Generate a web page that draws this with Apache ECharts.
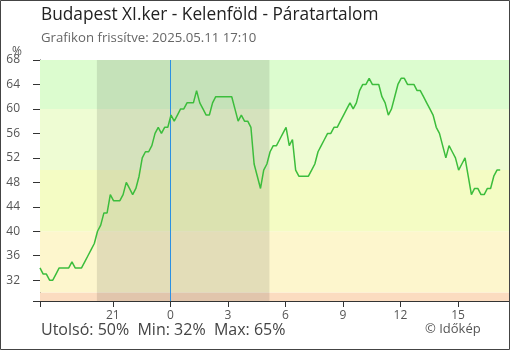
<!DOCTYPE html>
<html>
<head>
<meta charset="utf-8">
<script src="https://cdn.jsdelivr.net/npm/echarts@6/dist/echarts.min.js"></script>
<style>
  html, body { margin: 0; padding: 0; background: #fff; }
  #chart { width: 510px; height: 350px; }
</style>
</head>
<body>
<div id="chart"></div>
<script>
// Relative humidity (%), one reading every 10 minutes, hours relative to midnight
const startHour = -6.8;
const stepHour = 1 / 6;
const humidity = [
  34, 33, 33, 32, 32, 33, 34, 34, 34, 34, 35, 34, 34, 34, 35, 36, 37, 38, 40, 41,
  43, 43, 46, 45, 45, 45, 46, 48, 47, 46, 47, 49, 52, 53, 53, 54, 56, 57, 56, 57,
  57, 59, 58, 59, 60, 60, 61, 61, 61, 63, 61, 60, 59, 59, 61, 62, 62, 62, 62, 62,
  62, 60, 58, 59, 58, 58, 57, 51, 49, 47, 50, 51, 53, 54, 54, 55, 56, 57, 54, 55,
  50, 49, 49, 49, 49, 50, 51, 53, 54, 55, 56, 56, 57, 57, 58, 59, 60, 61, 60, 61,
  63, 64, 64, 65, 64, 64, 64, 62, 61, 59, 60, 62, 64, 65, 65, 64, 64, 64, 63, 63,
  62, 61, 60, 59, 57, 56, 54, 52, 54, 53, 52, 50, 51, 52, 49, 46, 47, 47, 46, 46,
  47, 47, 49, 50, 50
];

// Axis extents and ticks
const hourMin = -6.8;
const hourMax = 17.66;
const hourTicks = [-3, 0, 3, 6, 9, 12, 15];
const humMin = 28.6;
const humMax = 68;
const humTicks = [32, 36, 40, 44, 48, 52, 56, 60, 64, 68];

// Comfort bands (limits in %) and the night period (hours)
const bandLimits = [28.6, 30, 40, 50, 60, 68];
const nightRange = [-3.833, 5.167];

// Summary texts
const titleText = 'Budapest XI.ker - Kelenföld - Páratartalom';
const subtitleText = 'Grafikon frissítve: 2025.05.11 17:10';
const statsText = 'Utolsó: 50%  Min: 32%  Max: 65%';
const creditText = '© Időkép';

const FONT = '"Open Sans", "Noto Sans", sans-serif';
const bandColors = ['#fbdcc0', '#fdf6cd', '#f4fcc4', '#eefcd3', '#dcfccf'];

const points = humidity.map((v, i) => [startHour + i * stepHour, v]);
const bandAreas = [];
for (let k = 0; k < bandLimits.length - 1; k++) {
  bandAreas.push([
    { yAxis: bandLimits[k], itemStyle: { color: bandColors[k] } },
    { yAxis: bandLimits[k + 1] }
  ]);
}
const hourLabel = v => String(((Math.round(v) % 24) + 24) % 24);

const chart = echarts.init(document.getElementById('chart'), null, { renderer: 'canvas' });
chart.setOption({
  animation: false,
  backgroundColor: '#fff',
  grid: { left: 40, right: 1, top: 60, bottom: 49, containLabel: false },
  xAxis: [
    {
      type: 'value', min: hourMin, max: hourMax, position: 'bottom',
      axisLine: { show: true, onZero: false, lineStyle: { color: '#333', width: 1 } },
      axisTick: { show: true, inside: false, length: 6, customValues: [hourMin].concat(hourTicks),
                  lineStyle: { color: '#333' } },
      axisLabel: { customValues: hourTicks, formatter: hourLabel, margin: 9,
                   color: '#555', fontSize: 12, fontFamily: FONT },
      splitLine: { show: false }
    },
    {
      type: 'value', min: hourMin, max: hourMax, position: 'bottom',
      axisLine: { show: false, onZero: false },
      axisTick: { show: true, inside: true, length: 6, customValues: hourTicks,
                  lineStyle: { color: '#333' } },
      axisLabel: { show: false },
      splitLine: { show: false }
    }
  ],
  yAxis: {
    type: 'value', min: humMin, max: humMax,
    axisLine: { show: true, onZero: false, lineStyle: { color: '#333', width: 1 } },
    axisTick: { show: true, inside: false, length: 7, customValues: [humMin].concat(humTicks),
                lineStyle: { color: '#333' } },
    axisLabel: { customValues: humTicks, margin: 20, color: '#555', fontSize: 12, fontFamily: FONT },
    splitLine: { show: false }
  },
  series: [
    {
      name: 'bands', type: 'line', data: [], z: 1, silent: true,
      markArea: { silent: true, data: bandAreas }
    },
    {
      name: 'night', type: 'line', data: [], z: 2, silent: true,
      markArea: { silent: true, itemStyle: { color: 'rgba(0,0,0,0.1)' },
                  data: [[{ xAxis: nightRange[0] }, { xAxis: nightRange[1] }]] }
    },
    {
      name: 'Páratartalom', type: 'line', data: points, z: 5,
      showSymbol: false, smooth: false, silent: true,
      lineStyle: { color: '#3cbd3c', width: 1.5 },
      markLine: {
        silent: true, symbol: ['none', 'none'], label: { show: false },
        lineStyle: { color: '#2b90e2', width: 1, type: 'solid' },
        data: [{ xAxis: 0 }]
      }
    }
  ],
  graphic: [
    { type: 'text', left: 41, top: 7,
      style: { text: titleText, fill: '#222', font: '17.3px ' + FONT } },
    { type: 'text', left: 41, top: 32,
      style: { text: subtitleText, fill: '#666', font: '13.2px ' + FONT } },
    { type: 'text', left: 12, top: 46,
      style: { text: '%', fill: '#555', font: '12px ' + FONT } },
    { type: 'text', left: 41, top: 322,
      style: { text: statsText, fill: '#444', font: '16px ' + FONT } },
    { type: 'text', left: 425, top: 323,
      style: { text: creditText, fill: '#555', font: '13px ' + FONT } },
    { type: 'rect', shape: { x: 0.5, y: 0.5, width: 509, height: 349 },
      style: { fill: null, stroke: '#444', lineWidth: 1 }, z: 100 }
  ]
});
</script>
</body>
</html>
